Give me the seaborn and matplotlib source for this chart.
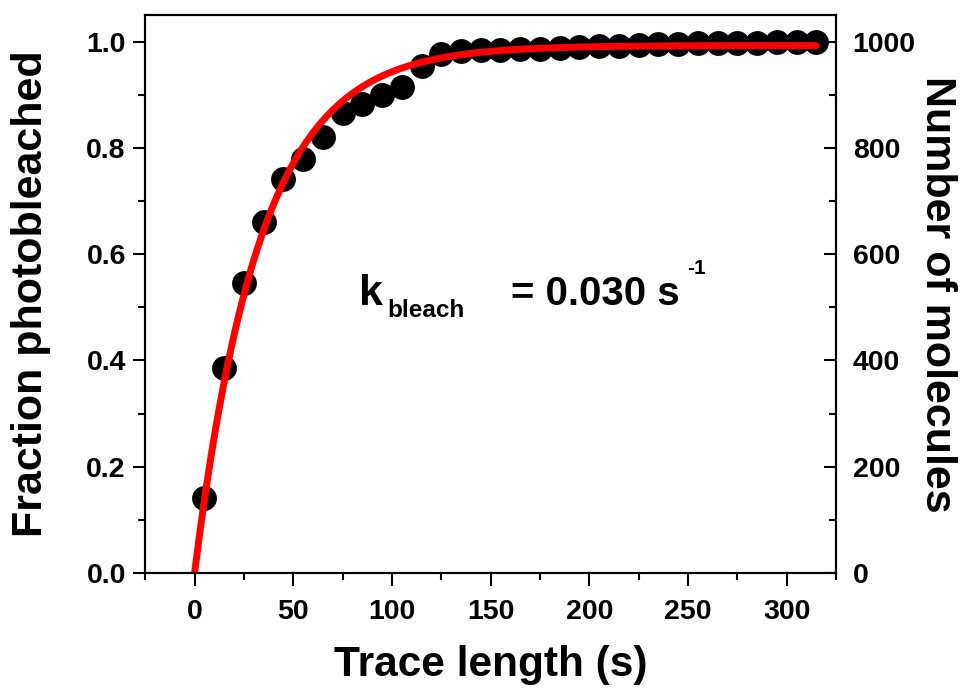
import numpy as np
import pandas as pd
import matplotlib
matplotlib.use("Agg")
import matplotlib.pyplot as plt
from matplotlib.ticker import MultipleLocator, FormatStrFormatter
import seaborn as sns

# measured points: trace length (s) vs fraction photobleached
trace_len = [5, 15, 25, 35, 45, 55, 65, 75, 85, 95, 105, 115, 125, 135, 145, 155,
             165, 175, 185, 195, 205, 215, 225, 235, 245, 255, 265, 275, 285, 295,
             305, 315]
fraction = [0.141, 0.385, 0.545, 0.660, 0.742, 0.780, 0.820, 0.865, 0.883, 0.900,
            0.915, 0.955, 0.977, 0.982, 0.985, 0.985, 0.986, 0.987, 0.989, 0.990,
            0.992, 0.993, 0.994, 0.995, 0.996, 0.997, 0.997, 0.998, 0.998, 0.999,
            1.000, 1.000]

# single-exponential fit shown on the chart
k_bleach = 0.030
amp = 0.993
fit_t = np.linspace(0, 315, 300)
fit_y = amp * (1 - np.exp(-k_bleach * fit_t))

n_molecules_max = 1000

sns.set_theme(style="ticks")
plt.rcParams["font.family"] = ["Liberation Sans", "DejaVu Sans"]
plt.rcParams["font.weight"] = "bold"
plt.rcParams["text.color"] = "black"
plt.rcParams["axes.labelcolor"] = "black"
plt.rcParams["xtick.color"] = "black"
plt.rcParams["ytick.color"] = "black"

df = pd.DataFrame({"t": trace_len, "frac": fraction})
fit_df = pd.DataFrame({"t": fit_t, "frac": fit_y})

fig = plt.figure(figsize=(9.62, 6.92), dpi=100)
ax = fig.add_axes([0.151, 0.172, 0.718, 0.806])

sns.scatterplot(data=df, x="t", y="frac", ax=ax, color="black", s=320,
                edgecolor="black", linewidth=0, zorder=2)
sns.lineplot(data=fit_df, x="t", y="frac", ax=ax, color="#ff0000", lw=5, zorder=3)

ax.set_xlim(-25, 325)
ax.set_ylim(0, 1.05)
ax.xaxis.set_major_locator(MultipleLocator(50))
ax.xaxis.set_minor_locator(MultipleLocator(25))
ax.yaxis.set_major_locator(MultipleLocator(0.2))
ax.yaxis.set_minor_locator(MultipleLocator(0.1))
ax.yaxis.set_major_formatter(FormatStrFormatter("%.1f"))

for lbl in ax.get_xticklabels() + ax.get_yticklabels():
    lbl.set_fontweight("bold")
    lbl.set_fontsize(20.5)
ax.tick_params(which="major", length=9, width=1.5, direction="out")
ax.tick_params(which="minor", length=5, width=1.5, direction="out")
ax.tick_params(axis="x", which="major", pad=10)
ax.tick_params(axis="y", which="major", pad=5)
for sp in ax.spines.values():
    sp.set_linewidth(1.5)
    sp.set_color("black")

ax.set_xlabel("Trace length (s)", fontsize=30.5, fontweight="bold", va="center")
ax.xaxis.set_label_coords(0.5, -0.165)
ax.set_ylabel("Fraction photobleached", fontsize=31, fontweight="bold", va="center")
ax.yaxis.set_label_coords(-0.166, 0.5)

ax2 = ax.twinx()
ax2.set_ylim(0, 1.05 * n_molecules_max)
ax2.yaxis.set_major_locator(MultipleLocator(200))
ax2.yaxis.set_minor_locator(MultipleLocator(100))
for lbl in ax2.get_yticklabels():
    lbl.set_fontweight("bold")
    lbl.set_fontsize(20.5)
ax2.tick_params(which="major", length=9, width=1.5, direction="in", pad=12)
ax2.tick_params(which="minor", length=5, width=1.5, direction="in")
ax2.set_ylabel("Number of molecules", fontsize=31, fontweight="bold",
               rotation=270, va="center")
ax2.yaxis.set_label_coords(1.146, 0.5)
for sp in ax2.spines.values():
    sp.set_linewidth(1.5)
    sp.set_color("black")

# rate constant annotation
ax.text(0.310, 0.480, "k", transform=ax.transAxes, fontsize=31,
        fontweight="bold", ha="left", va="baseline")
ax.text(0.350, 0.459, "bleach", transform=ax.transAxes, fontsize=17.5,
        fontweight="bold", ha="left", va="baseline")
ax.text(0.529, 0.480, "= 0.030 s", transform=ax.transAxes, fontsize=29,
        fontweight="bold", ha="left", va="baseline")
ax.text(0.785, 0.536, "-1", transform=ax.transAxes, fontsize=15,
        fontweight="bold", ha="left", va="baseline")

fig.savefig("out.png", dpi=100)
